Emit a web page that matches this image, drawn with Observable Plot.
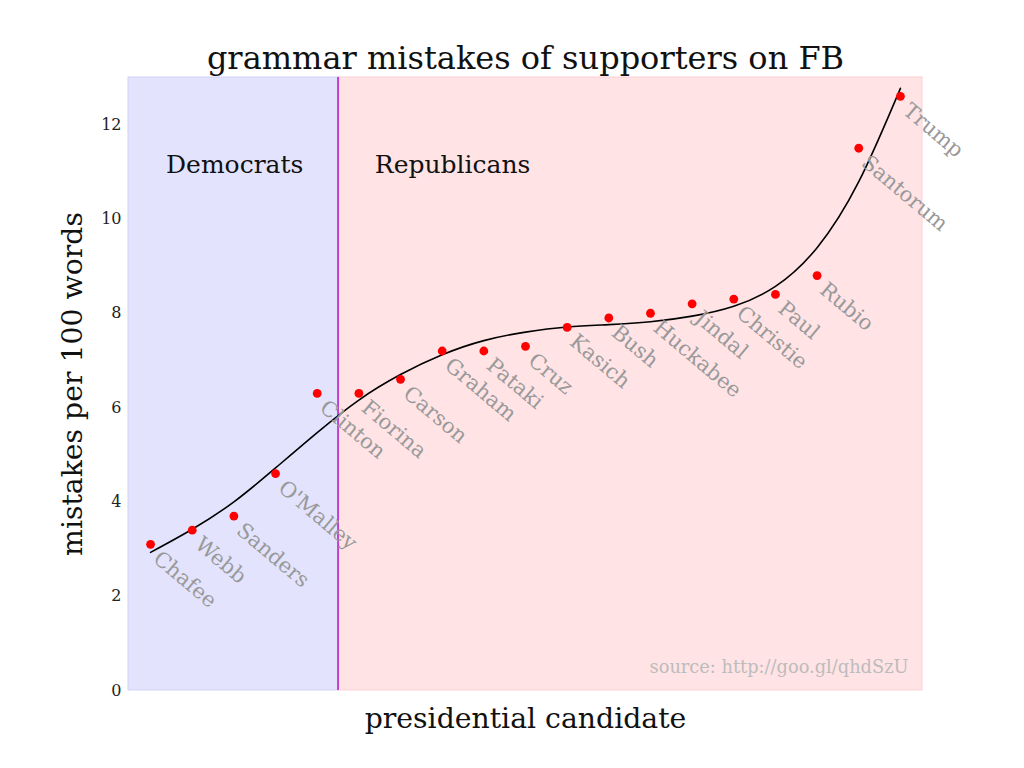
<!DOCTYPE html>
<html>
<head>
<meta charset="utf-8">
<script src="https://cdn.jsdelivr.net/npm/d3@7"></script>
<script src="https://cdn.jsdelivr.net/npm/@observablehq/plot@0.6"></script>
<style>
  html, body { margin: 0; padding: 0; background: #fff; }
  svg { display: block; }
</style>
</head>
<body>
<div id="chart"></div>
<script>
// ---- data ----
const candidates = ["Chafee", "Webb", "Sanders", "O'Malley", "Clinton", "Fiorina", "Carson", "Graham", "Pataki", "Cruz", "Kasich", "Bush", "Huckabee", "Jindal", "Christie", "Paul", "Rubio", "Santorum", "Trump"];
const mistakes = [3.1, 3.4, 3.7, 4.6, 6.3, 6.3, 6.6, 7.2, 7.2, 7.3, 7.7, 7.9, 8.0, 8.2, 8.3, 8.4, 8.8, 11.5, 12.6];
// trend curve values at each candidate
const trend = [2.93, 3.42, 4.0, 4.72, 5.47, 6.16, 6.7, 7.12, 7.42, 7.6, 7.71, 7.76, 7.82, 7.94, 8.15, 8.57, 9.39, 10.79, 12.77];
const parties = ["Democrats", "Republicans"];
const partyLabelX = [2.02, 7.25];
const partyLabelY = 11.15;
const partySplit = 4.5;
const yTicks = [0, 2, 4, 6, 8, 10, 12];
const xDomain = [-0.53, 18.53];
const yDomain = [0, 13];
const titleText = "grammar mistakes of supporters on FB";
const xLabel = "presidential candidate";
const yLabel = "mistakes per 100 words";
const sourceText = "source: http://goo.gl/qhdSzU";

// ---- tables ----
const points = candidates.map((name, i) => ({name, i, v: mistakes[i]}));
const fit = trend.map((v, i) => ({i, v}));
const demRegion = [{x1: xDomain[0], x2: partySplit}];
const repRegion = [{x1: partySplit, x2: xDomain[1]}];
const partyLabels = parties.map((p, k) => ({p, x: partyLabelX[k], y: partyLabelY}));

const chart = Plot.plot({
  width: 1024,
  height: 768,
  marginLeft: 128,
  marginRight: 102,
  marginTop: 77,
  marginBottom: 78,
  style: {fontFamily: "'DejaVu Serif', serif", background: "#fff", color: "#111"},
  x: {domain: xDomain, axis: null},
  y: {domain: yDomain, axis: null},
  marks: [
    Plot.rect(demRegion, {x1: "x1", x2: "x2", y1: yDomain[0], y2: yDomain[1], fill: "#e3e3fd", stroke: "#d2d2f8", strokeWidth: 1}),
    Plot.rect(repRegion, {x1: "x1", x2: "x2", y1: yDomain[0], y2: yDomain[1], fill: "#ffe3e5", stroke: "#fbd0d4", strokeWidth: 1}),
    Plot.ruleX([partySplit], {y1: yDomain[0], y2: yDomain[1], stroke: "#b512c8", strokeWidth: 1.5}),
    Plot.axisY({ticks: yTicks, tickSize: 0, tickPadding: 7, fontSize: 16, label: null, fill: "#222"}),
    Plot.line(fit, {x: "i", y: "v", curve: "natural", stroke: "#000", strokeWidth: 1.6}),
    Plot.dot(points, {x: "i", y: "v", r: 4.4, fill: "#ff0000", stroke: "none"}),
    Plot.text(points, {x: "i", y: "v", text: "name", rotate: 40, textAnchor: "start", lineAnchor: "top", dx: 11, dy: 5, fontSize: 21, fill: "#999"}),
    Plot.text(partyLabels, {x: "x", y: "y", text: "p", fontSize: 25, fill: "#111", lineAnchor: "middle"}),
    Plot.text([titleText], {frameAnchor: "top", lineAnchor: "bottom", dy: -9, fontSize: 32, fill: "#111"}),
    Plot.text([xLabel], {frameAnchor: "bottom", lineAnchor: "bottom", dy: 37, fontSize: 28.3, fill: "#111"}),
    Plot.text([yLabel], {frameAnchor: "left", textAnchor: "middle", rotate: -90, lineAnchor: "bottom", dx: -47, fontSize: 28.3, fill: "#111"}),
    Plot.text([sourceText], {frameAnchor: "bottom-right", textAnchor: "end", lineAnchor: "bottom", dx: -14, dy: -18, fontSize: 17.8, fill: "#bcbcbc"})
  ]
});
document.getElementById("chart").appendChild(chart);
</script>
</body>
</html>
